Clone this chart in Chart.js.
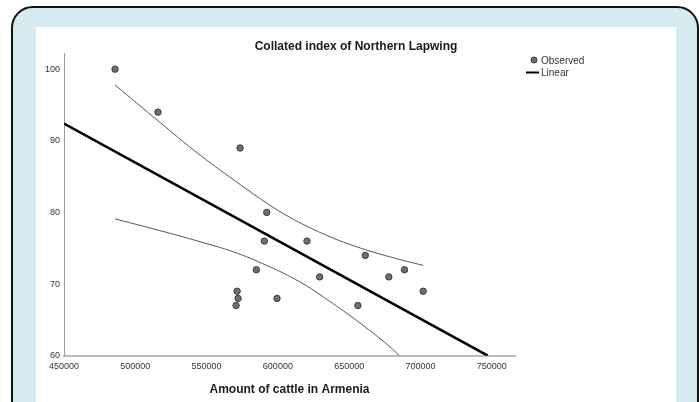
<!DOCTYPE html>
<html>
<head>
<meta charset="utf-8">
<script src="https://cdn.jsdelivr.net/npm/chart.js@4.4.1/dist/chart.umd.min.js"></script>
<style>
body { margin: 0; background: #fff; overflow: hidden; }
#frame { position: absolute; left: 11px; top: 6px; width: 688px; height: 430px; box-sizing: border-box;
	border: 2px solid #111; border-radius: 22px; background: #d6eaf0; }
#panel { position: absolute; left: 36px; top: 27px; width: 640px; height: 400px; background: #fff; }
#wrap { position: absolute; left: 0; top: 0; width: 699px; height: 402px; }
</style>
</head>
<body>
<div id="frame"></div>
<div id="panel"></div>
<div id="wrap"><canvas id="myChart" width="699" height="402"></canvas></div>
<script>
// observed points (cattle, index)
var obsX = [485800, 515900, 573500, 592200, 590500, 620400, 661300, 584900, 629300,
		677800, 688800, 571400, 572100, 570700, 599400, 656100, 701900];
var obsY = [100, 94, 89, 80, 76, 76, 74, 72, 71, 71, 72, 69, 68, 67, 68, 67, 69];

// linear fit
var fitX = [450000, 747200];
var fitY = [92.4, 60];

// confidence band
var upX = [485800, 515900, 545500, 573500, 592200, 608500, 631900, 655300, 678600, 701900];
var upY = [97.8, 92.8, 88.0, 83.9, 81.3, 79.3, 77.0, 75.2, 73.8, 72.6];
var loX = [485800, 522200, 545500, 568800, 592200, 615500, 631900, 655300, 678600, 685100];
var loY = [79.1, 77.2, 75.9, 74.5, 72.6, 70.3, 68.2, 64.9, 61.25, 60];

var xTicks = [450000, 500000, 550000, 600000, 650000, 700000, 750000];
var yTicks = [60, 70, 80, 90, 100];

function pts(xs, ys) {
	return xs.map(function(x, i) { return { x : x, y : ys[i] }; });
}

var FONT = "Arial, 'Liberation Sans', sans-serif";

// legend drawn by hand so it sits where the original one does
var legendPlugin = {
	id : 'sideLegend',
	afterDraw : function(chart) {
		var ctx = chart.ctx;
		var obs = chart.data.datasets[0];
		var lin = chart.data.datasets[1];
		ctx.save();
		ctx.beginPath();
		ctx.arc(534, 60, 3, 0, Math.PI * 2);
		ctx.fillStyle = obs.backgroundColor;
		ctx.fill();
		ctx.lineWidth = 1;
		ctx.strokeStyle = obs.borderColor;
		ctx.stroke();
		ctx.beginPath();
		ctx.moveTo(526, 72.5);
		ctx.lineTo(539, 72.5);
		ctx.lineWidth = 2;
		ctx.strokeStyle = lin.borderColor;
		ctx.stroke();
		ctx.font = '10px ' + FONT;
		ctx.fillStyle = '#333';
		ctx.textBaseline = 'middle';
		ctx.fillText(obs.label, 541, 61);
		ctx.fillText(lin.label, 541, 73);
		ctx.restore();
	}
};

var ctx = document.getElementById('myChart').getContext('2d');
var chart = new Chart(ctx, {
	type : 'scatter',
	data : {
		datasets : [ {
			label : 'Observed',
			data : pts(obsX, obsY),
			backgroundColor : '#6f6f6f',
			borderColor : '#3c3c3c',
			borderWidth : 1,
			pointRadius : 3.2,
			order : 0
		}, {
			label : 'Linear',
			data : pts(fitX, fitY),
			showLine : true,
			borderColor : '#000',
			borderWidth : 2.5,
			pointRadius : 0,
			order : 1
		}, {
			label : 'Upper',
			data : pts(upX, upY),
			showLine : true,
			tension : 0.4,
			borderColor : '#555',
			borderWidth : 1,
			pointRadius : 0,
			order : 2
		}, {
			label : 'Lower',
			data : pts(loX, loY),
			showLine : true,
			tension : 0.4,
			borderColor : '#555',
			borderWidth : 1,
			pointRadius : 0,
			order : 2
		} ]
	},
	options : {
		responsive : false,
		animation : false,
		layout : {
			padding : { left : 36, right : 23, top : 27, bottom : 0 }
		},
		plugins : {
			legend : { display : false },
			tooltip : { enabled : false },
			title : {
				display : true,
				text : 'Collated index of Northern Lapwing',
				color : '#1a1a1a',
				font : { family : FONT, size : 12, weight : 'bold' },
				padding : { top : 12, bottom : 0 }
			}
		},
		scales : {
			x : {
				type : 'linear',
				min : 450000,
				max : 766300,
				grid : { display : false, drawTicks : false },
				border : { color : '#bdbdbd', width : 2 },
				afterBuildTicks : function(s) {
					s.ticks = xTicks.map(function(v) { return { value : v }; });
				},
				afterFit : function(s) { s.height = 46.3; },
				ticks : {
					color : '#333',
					padding : 5,
					maxRotation : 0,
					autoSkip : false,
					font : { family : FONT, size : 9 },
					callback : function(v) { return String(v); }
				},
				title : {
					display : true,
					text : 'Amount of cattle in Armenia',
					color : '#1a1a1a',
					font : { family : FONT, size : 12, weight : 'bold' },
					padding : { top : 0, bottom : 5 }
				}
			},
			y : {
				type : 'linear',
				min : 60,
				max : 102.2,
				grid : { display : false, drawTicks : false },
				border : { color : '#999', width : 1 },
				afterBuildTicks : function(s) {
					s.ticks = yTicks.map(function(v) { return { value : v }; });
				},
				afterFit : function(s) { s.width = 28; },
				ticks : {
					color : '#333',
					padding : 4,
					font : { family : FONT, size : 9 },
					callback : function(v) { return String(v); }
				}
			},
			// empty axis on the right to leave room for the legend
			yr : {
				type : 'linear',
				position : 'right',
				axis : 'y',
				grid : { display : false, drawTicks : false },
				border : { display : false },
				ticks : { display : false },
				afterFit : function(s) { s.width = 161; }
			}
		}
	},
	plugins : [ legendPlugin ]
});
</script>
</body>
</html>
